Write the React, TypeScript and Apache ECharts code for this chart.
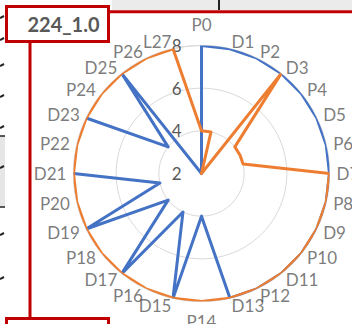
import { useEffect, useRef } from 'react';
import * as echarts from 'echarts';

const categories = [
  'P0', 'D1', 'P2', 'D3', 'P4', 'D5', 'P6', 'D7', 'P8', 'D9', 'P10', 'D11', 'P12', 'D13',
  'P14', 'D15', 'P16', 'D17', 'P18', 'D19', 'P20', 'D21', 'P22', 'D23', 'P24', 'D25', 'P26', 'L27',
];
const blueValues: (number | null)[] = [
  8, 8, 8, 8, 8, 8, 8, 8, 8, 8, 8, 8, 8, 8,
  4, 8, 4, 8, 4, 8, 4, 8, null, 8, 4, 8, 2, 2,
];
const orangeValues: (number | null)[] = [
  4, 4, 2, 8, 4, 4, 4, 8, 8, 8, 8, 8, 8, 8,
  8, 8, 8, 8, 8, 8, 8, 8, 8, 8, 8, 8, 8, 8,
];
const radiusTicks = [2, 4, 6, 8];
const chartTitle = '224_1.0';

const TEXT = '#595959';
const FONT = 'Lato, "Liberation Sans", sans-serif';
const RED = '#C00000';
const LABEL_SIZE = 17;

// closed ring in polar coords: [radius, angle index], first point repeated at the end
function ring(values: (number | null)[]) {
  const pts: [number | string, number][] = values.map((v, i) => [v == null ? '-' : v, i]);
  pts.push([values[0] == null ? '-' : (values[0] as number), values.length]);
  return pts;
}

// category names sit just outside the outer ring: side labels are vertically
// centred and pushed outward along the spoke, top/bottom ones are centred
function categoryLabelItems(outer: number) {
  const n = categories.length;
  return categories.map((name, i) => {
    const a = (i / n) * Math.PI * 2;
    const s = Math.sin(a);
    const c = Math.cos(a);
    let label: any;
    if (Math.abs(s) < 0.01) {
      label = { position: c > 0 ? 'top' : 'bottom', distance: c > 0 ? 12 : 11 };
    } else {
      label = { position: s > 0 ? 'right' : 'left', distance: 0, offset: [7 * s, -7 * c] };
    }
    return { name, value: [outer, i], label };
  });
}

export default function App() {
  const ref = useRef<HTMLDivElement>(null);

  useEffect(() => {
    const chart = echarts.init(ref.current!, null, { renderer: 'svg' });
    const step = radiusTicks[1] - radiusTicks[0];
    const outer = radiusTicks[radiusTicks.length - 1];

    const edgeMarks = [18, 40, 66, 97, 128, 168, 235, 279];

    chart.setOption({
      animation: false,
      backgroundColor: '#ffffff',
      polar: { center: [201.5, 173.5], radius: 128 },
      angleAxis: {
        type: 'value',
        min: 0,
        max: categories.length,
        interval: 1,
        startAngle: 90,
        clockwise: true,
        axisLine: { show: true, lineStyle: { color: '#d9d9d9', width: 1 } },
        axisTick: { show: false },
        splitLine: { show: false },
        axisLabel: { show: false },
      },
      radiusAxis: {
        type: 'value',
        min: radiusTicks[0],
        max: outer,
        interval: step,
        axisLine: { show: false },
        axisTick: { show: false },
        splitLine: { show: true, lineStyle: { color: '#d9d9d9', width: 1 } },
        axisLabel: { color: TEXT, fontSize: LABEL_SIZE, fontFamily: FONT, margin: 20 },
      },
      series: [
        {
          type: 'line',
          coordinateSystem: 'polar',
          data: ring(blueValues),
          symbol: 'none',
          connectNulls: false,
          lineStyle: { color: '#4472C4', width: 3, join: 'round', cap: 'round' },
          z: 2,
        },
        {
          type: 'line',
          coordinateSystem: 'polar',
          data: ring(orangeValues),
          symbol: 'none',
          connectNulls: false,
          lineStyle: { color: '#ED7D31', width: 3, join: 'round', cap: 'round' },
          z: 3,
        },
        {
          type: 'scatter',
          coordinateSystem: 'polar',
          data: categoryLabelItems(outer),
          symbolSize: 0.1,
          silent: true,
          itemStyle: { color: 'transparent' },
          label: {
            show: true,
            formatter: '{b}',
            color: TEXT,
            fontSize: LABEL_SIZE,
            fontFamily: FONT,
          },
          z: 4,
        },
      ],
      graphic: [
        // strip along the top edge
        { type: 'rect', shape: { x: 112, y: 0, width: 240, height: 10 }, style: { fill: '#ebebeb' }, z: 10 },
        { type: 'rect', shape: { x: 218, y: 0, width: 2, height: 10 }, style: { fill: '#222' }, z: 11 },
        { type: 'line', shape: { x1: 110, y1: 11.7, x2: 352, y2: 11.7 }, style: { stroke: RED, lineWidth: 3 }, z: 11 },
        // connector down the left side
        { type: 'line', shape: { x1: 30, y1: 42, x2: 30, y2: 318 }, style: { stroke: RED, lineWidth: 3 }, z: 11 },
        // title box
        {
          type: 'rect',
          shape: { x: 6.5, y: 6.5, width: 102, height: 35 },
          style: { fill: '#ffffff', stroke: RED, lineWidth: 3 },
          z: 12,
        },
        {
          type: 'text',
          x: 63.5,
          y: 24,
          style: {
            text: chartTitle,
            fill: TEXT,
            font: `bold 20px ${FONT}`,
            align: 'center',
            verticalAlign: 'middle',
          },
          z: 13,
        },
        // next box, partly below the edge
        {
          type: 'rect',
          shape: { x: 6.5, y: 318.5, width: 102, height: 20 },
          style: { fill: '#ffffff', stroke: RED, lineWidth: 3 },
          z: 12,
        },
        // left edge strip
        { type: 'rect', shape: { x: 0, y: 136, width: 5, height: 71 }, style: { fill: '#e6e6e6' }, z: 10 },
        { type: 'line', shape: { x1: 0, y1: 136, x2: 5, y2: 136 }, style: { stroke: '#222', lineWidth: 1.5 }, z: 11 },
        { type: 'line', shape: { x1: 0, y1: 207, x2: 5, y2: 207 }, style: { stroke: '#222', lineWidth: 1.5 }, z: 11 },
        ...edgeMarks.map((y) => ({
          type: 'line',
          shape: { x1: 0, y1: y, x2: 4, y2: y - 2 },
          style: { stroke: '#222', lineWidth: 2 },
          z: 11,
        })),
      ],
    });

    return () => chart.dispose();
  }, []);

  return (
    <div
      ref={ref}
      style={{ position: 'fixed', left: 0, top: 0, width: 352, height: 324 }}
    />
  );
}
